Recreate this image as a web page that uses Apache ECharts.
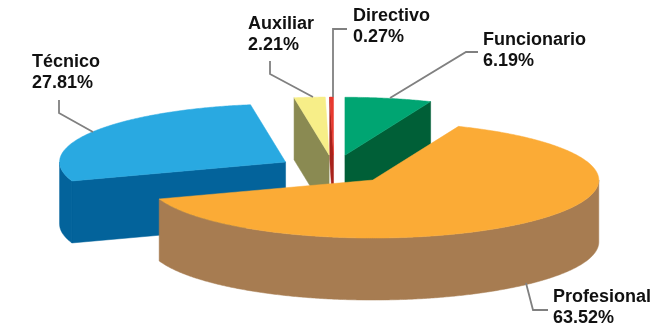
<!DOCTYPE html>
<html>
<head>
<meta charset="utf-8">
<script src="https://cdn.jsdelivr.net/npm/echarts@6/dist/echarts.min.js"></script>
<style>
  html, body { margin: 0; padding: 0; background: #ffffff; }
  #chart { width: 661px; height: 331px; }
</style>
</head>
<body>
<div id="chart"></div>
<script>
// Share of staff by category (%)
const categories = ['Funcionario', 'Profesional', 'Técnico', 'Auxiliar', 'Directivo'];
const shares = [6.19, 63.52, 27.81, 2.21, 0.27];

// Face colours: top surface and extruded sides
const topColors  = ['#00A572', '#FBAB36', '#29A9E1', '#F7EE88', '#E8392F'];
const sideColors = ['#005F37', '#A77C51', '#03639B', '#8A8A52', '#A8221B'];

// Label placement: left edge and centre of the first text line
const labelPos = [[483, 40], [553, 297], [32, 62], [248, 24], [353, 16]];
// Leader lines from label to slice
const leaders = [
  [[478, 52], [466, 52], [390, 98]],
  [[548, 310], [533, 310], [526, 283]],
  [[59, 100], [59, 113], [93, 132]],
  [[270, 61], [270, 74], [313, 97]],
  [[347, 29], [333, 29], [333, 97]]
];

// Tilted pie geometry
const CX = 334, CY = 169.5;   // pie centre on screen
const RX = 226, RY = 58;      // ellipse radii of the top surface
const DEPTH = 62;             // slice thickness
const EXPLODE = 0.25;         // slice offset as a fraction of the radius
const START = 90;             // first slice starts at 12 o'clock, clockwise

const total = shares.reduce((a, b) => a + b, 0);
const rad = d => d * Math.PI / 180;

function sliceGeom(index, values) {
  let before = 0;
  for (let k = 0; k < index; k++) before += values[k];
  const hi = START - before / total * 360;
  const lo = hi - values[index] / total * 360;
  const mid = rad((hi + lo) / 2);
  const ox = CX + EXPLODE * RX * Math.cos(mid);
  const oy = CY - EXPLODE * RY * Math.sin(mid);
  return { hi, lo, ox, oy };
}

// Back-to-front painting order: slices further back get lower z2
const order = shares.map((_, i) => ({ i, y: sliceGeom(i, shares).oy }))
  .sort((a, b) => a.y - b.y).map(o => o.i);

function renderItem(params, api) {
  const i = params.dataIndex;
  const values = shares.map((_, k) => k === i ? api.value(0) : shares[k]);
  const g = sliceGeom(i, values);
  const { hi, lo, ox, oy } = g;
  const rank = order.indexOf(i);
  const pt = (deg, dy) => [ox + RX * Math.cos(rad(deg)), oy - RY * Math.sin(rad(deg)) + (dy || 0)];
  const side = sideColors[i];
  const children = [];

  // Radial faces, drawn only when they face the viewer
  [[lo, -1], [hi, 1]].forEach(([ang, sgn]) => {
    if (Math.sin(rad(ang + sgn * 90)) < -1e-6) {
      const e = pt(ang);
      children.push({
        type: 'polygon', z2: rank * 10 + 1,
        shape: { points: [[ox, oy], e, [e[0], e[1] + DEPTH], [ox, oy + DEPTH]] },
        style: { fill: side, stroke: side, lineWidth: 0.5 }
      });
    }
  });

  // Curved outer wall on the front half of the ellipse
  for (let k = -2; k <= 1; k++) {
    const s = Math.max(lo, 180 + 360 * k), e = Math.min(hi, 360 + 360 * k);
    if (e > s) {
      const topArc = [], botArc = [];
      const n = Math.max(2, Math.ceil((e - s) / 0.5));
      for (let j = 0; j <= n; j++) {
        const a = s + (e - s) * j / n;
        topArc.push(pt(a));
        botArc.push(pt(a, DEPTH));
      }
      children.push({
        type: 'polygon', z2: rank * 10 + 2,
        shape: { points: topArc.concat(botArc.reverse()) },
        style: { fill: side, stroke: side, lineWidth: 0.5 }
      });
    }
  }

  // Top surface
  const topPts = [[ox, oy]];
  const n = Math.max(2, Math.ceil((hi - lo) / 0.5));
  for (let j = 0; j <= n; j++) topPts.push(pt(hi - (hi - lo) * j / n));
  children.push({
    type: 'polygon', z2: rank * 10 + 3,
    shape: { points: topPts },
    style: { fill: topColors[i], stroke: topColors[i], lineWidth: 0.5 }
  });

  // Leader line and label
  children.push({
    type: 'polyline', z2: 100,
    shape: { points: leaders[i] },
    style: { stroke: '#808080', lineWidth: 1.8, fill: null }
  });
  children.push({
    type: 'text', z2: 101,
    style: {
      text: categories[i] + '\n' + api.value(0).toFixed(2) + '%',
      x: labelPos[i][0], y: labelPos[i][1] - 10.5,
      fill: '#111111',
      font: 'bold 18px "Liberation Sans", Arial, sans-serif',
      lineHeight: 21,
      align: 'left', verticalAlign: 'top'
    }
  });

  return { type: 'group', children };
}

const chart = echarts.init(document.getElementById('chart'), null, { renderer: 'canvas' });
chart.setOption({
  animation: false,
  backgroundColor: '#ffffff',
  series: [{
    type: 'custom',
    coordinateSystem: 'none',
    renderItem: renderItem,
    data: shares.map((v, i) => ({ name: categories[i], value: [v] }))
  }]
});
</script>
</body>
</html>
